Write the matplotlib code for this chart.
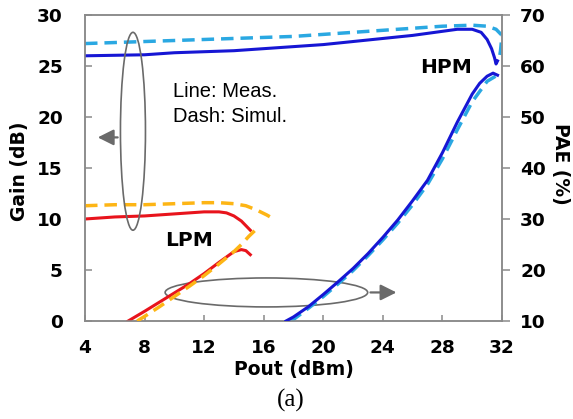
import numpy as np
import matplotlib
matplotlib.use("Agg")
import matplotlib.pyplot as plt
from matplotlib.patches import Ellipse

# ---- data ----
# HPM gain (left axis)
hpm_gain_meas_x = [4, 6, 8, 10, 12, 14, 16, 18, 20, 22, 24, 26, 28, 29, 30, 30.6, 31.0, 31.3, 31.5, 31.6, 31.7]
hpm_gain_meas_y = [26.0, 26.05, 26.1, 26.3, 26.4, 26.5, 26.7, 26.9, 27.1, 27.4, 27.7, 28.0, 28.4, 28.6, 28.6, 28.3, 27.6, 26.7, 25.8, 25.2, 25.5]
hpm_gain_sim_x = [4, 6, 8, 10, 12, 14, 16, 18, 20, 22, 24, 26, 28, 30, 31, 31.6, 32, 31.9, 31.8]
hpm_gain_sim_y = [27.2, 27.3, 27.4, 27.5, 27.6, 27.7, 27.8, 27.9, 28.1, 28.3, 28.5, 28.7, 28.9, 29.0, 28.9, 28.6, 28.0, 26.5, 25.5]

# LPM gain (left axis)
lpm_gain_meas_x = [4, 6, 8, 10, 12, 13, 13.5, 14, 14.5, 15.1]
lpm_gain_meas_y = [10.0, 10.2, 10.3, 10.5, 10.7, 10.7, 10.6, 10.3, 9.8, 8.9]
lpm_gain_sim_x = [4, 6, 8, 10, 12, 13, 14, 14.8, 15.5, 16.2, 16.8]
lpm_gain_sim_y = [11.3, 11.4, 11.4, 11.5, 11.6, 11.6, 11.5, 11.3, 10.9, 10.4, 9.9]

# HPM PAE (right axis)
hpm_pae_meas_x = [17.5, 18, 19, 20, 21, 22, 23, 24, 25, 26, 27, 28, 29, 30, 30.5, 31, 31.4, 31.7]
hpm_pae_meas_y = [10, 10.8, 12.8, 15.2, 17.7, 20.3, 23.2, 26.4, 29.8, 33.6, 37.6, 43.0, 49.0, 54.5, 56.6, 58.0, 58.6, 58.2]
hpm_pae_sim_x = [17.8, 18, 19, 20, 21, 22, 23, 24, 25, 26, 27, 28, 29, 30, 31, 31.8]
hpm_pae_sim_y = [10, 10.3, 12.5, 14.8, 17.3, 19.9, 22.8, 25.9, 29.2, 32.8, 36.8, 41.8, 47.5, 53.0, 57.0, 58.4]

# LPM PAE (right axis)
lpm_pae_meas_x = [6.9, 8, 9, 10, 11, 12, 13, 14, 14.5, 14.8, 15.1]
lpm_pae_meas_y = [10, 11.9, 13.7, 15.5, 17.3, 19.3, 21.5, 23.6, 24.0, 23.8, 23.0]
lpm_pae_sim_x = [7.5, 8, 9, 10, 11, 12, 13, 14, 14.5, 15, 15.5]
lpm_pae_sim_y = [10, 10.9, 12.8, 14.8, 16.8, 18.9, 21.2, 23.6, 25.0, 26.6, 28.0]

x_ticks = [4, 8, 12, 16, 20, 24, 28, 32]
gain_ticks = [0, 5, 10, 15, 20, 25, 30]
pae_ticks = [10, 20, 30, 40, 50, 60, 70]

# ---- style ----
c_blue = "#1616d4"
c_lblue = "#2aa8e2"
c_red = "#e8141c"
c_orange = "#fdb515"
c_gray = "#8a8a8a"
c_ell = "#6a6a6a"
lw_solid = 2.2
lw_dash = 2.5
dash = (3.6, 2.0)
bold = dict(family="DejaVu Sans", weight="bold")

fig = plt.figure(figsize=(5.73, 4.19), dpi=100)
ax = fig.add_axes([85 / 573, 1 - 321 / 419, 417 / 573, 306 / 419])
ax2 = ax.twinx()

# gain curves
ax.plot(hpm_gain_sim_x, hpm_gain_sim_y, color=c_lblue, lw=lw_dash, dashes=dash, zorder=2)
ax.plot(hpm_gain_meas_x, hpm_gain_meas_y, color=c_blue, lw=lw_solid, zorder=3)
ax.plot(lpm_gain_meas_x, lpm_gain_meas_y, color=c_red, lw=lw_solid, zorder=2)
ax.plot(lpm_gain_sim_x, lpm_gain_sim_y, color=c_orange, lw=lw_dash, dashes=dash, zorder=3)

# PAE curves
ax2.plot(hpm_pae_sim_x, hpm_pae_sim_y, color=c_lblue, lw=lw_dash, dashes=dash, zorder=2)
ax2.plot(hpm_pae_meas_x, hpm_pae_meas_y, color=c_blue, lw=lw_solid, zorder=3)
ax2.plot(lpm_pae_meas_x, lpm_pae_meas_y, color=c_red, lw=lw_solid, zorder=2)
ax2.plot(lpm_pae_sim_x, lpm_pae_sim_y, color=c_orange, lw=lw_dash, dashes=dash, zorder=3)

ax.set_xlim(4, 32)
ax.set_ylim(0, 30)
ax2.set_ylim(10, 70)
ax.set_xticks(x_ticks)
ax.set_yticks(gain_ticks)
ax2.set_yticks(pae_ticks)

for a in (ax, ax2):
    for s in a.spines.values():
        s.set_color(c_gray)
        s.set_linewidth(1.1)
ax.tick_params(axis="x", direction="in", length=4, width=1.1, color=c_gray, pad=13, labelsize=13.3)
ax.tick_params(axis="y", direction="in", length=5, width=1.1, color=c_gray, pad=16, labelsize=13.3)
ax2.tick_params(axis="y", direction="out", length=6, width=1.1, color=c_gray, pad=7, labelsize=13.3)
for lab in ax.get_xticklabels() + ax.get_yticklabels() + ax2.get_yticklabels():
    lab.set_fontweight("bold")

ax.set_xlabel("Pout (dBm)", fontsize=13.5, va="center", **bold)
ax.xaxis.set_label_coords(0.5, -0.16)
ax.set_ylabel("Gain (dB)", fontsize=13.5, va="center", **bold)
ax.yaxis.set_label_coords(-0.156, 0.49)
ax2.set_ylabel("PAE (%)", fontsize=13.5, rotation=270, va="center", **bold)
ax2.yaxis.set_label_coords(1.141, 0.515)

# annotations
ax.add_patch(Ellipse((7.22, 18.6), 1.68, 19.4, fill=False, ec=c_ell, lw=1.2, zorder=4))
ax.add_patch(Ellipse((16.18, 2.8), 13.6, 2.84, fill=False, ec=c_ell, lw=1.2, zorder=1))
ax.annotate("", xy=(4.67, 18.0), xytext=(6.38, 18.0),
            arrowprops=dict(arrowstyle="-|>", color=c_ell, lw=1.6, mutation_scale=24))
ax.annotate("", xy=(25.1, 2.8), xytext=(22.98, 2.8),
            arrowprops=dict(arrowstyle="-|>", color=c_ell, lw=1.6, mutation_scale=24))

ax.text(9.9, 22.5, "Line: Meas.", family="Liberation Sans", fontsize=14.5, ha="left", va="center")
ax.text(9.9, 20.05, "Dash: Simul.", family="Liberation Sans", fontsize=14.5, ha="left", va="center")
ax.text(28.27, 24.85, "HPM", fontsize=14.5, ha="center", va="center", **bold)
ax.text(9.37, 7.85, "LPM", fontsize=14.5, ha="left", va="center", **bold)

fig.text(291 / 573, 1 - 400 / 419, "(a)", family="Liberation Serif", fontsize=18, ha="center", va="center")

fig.savefig("out.png", dpi=100, facecolor="white")
